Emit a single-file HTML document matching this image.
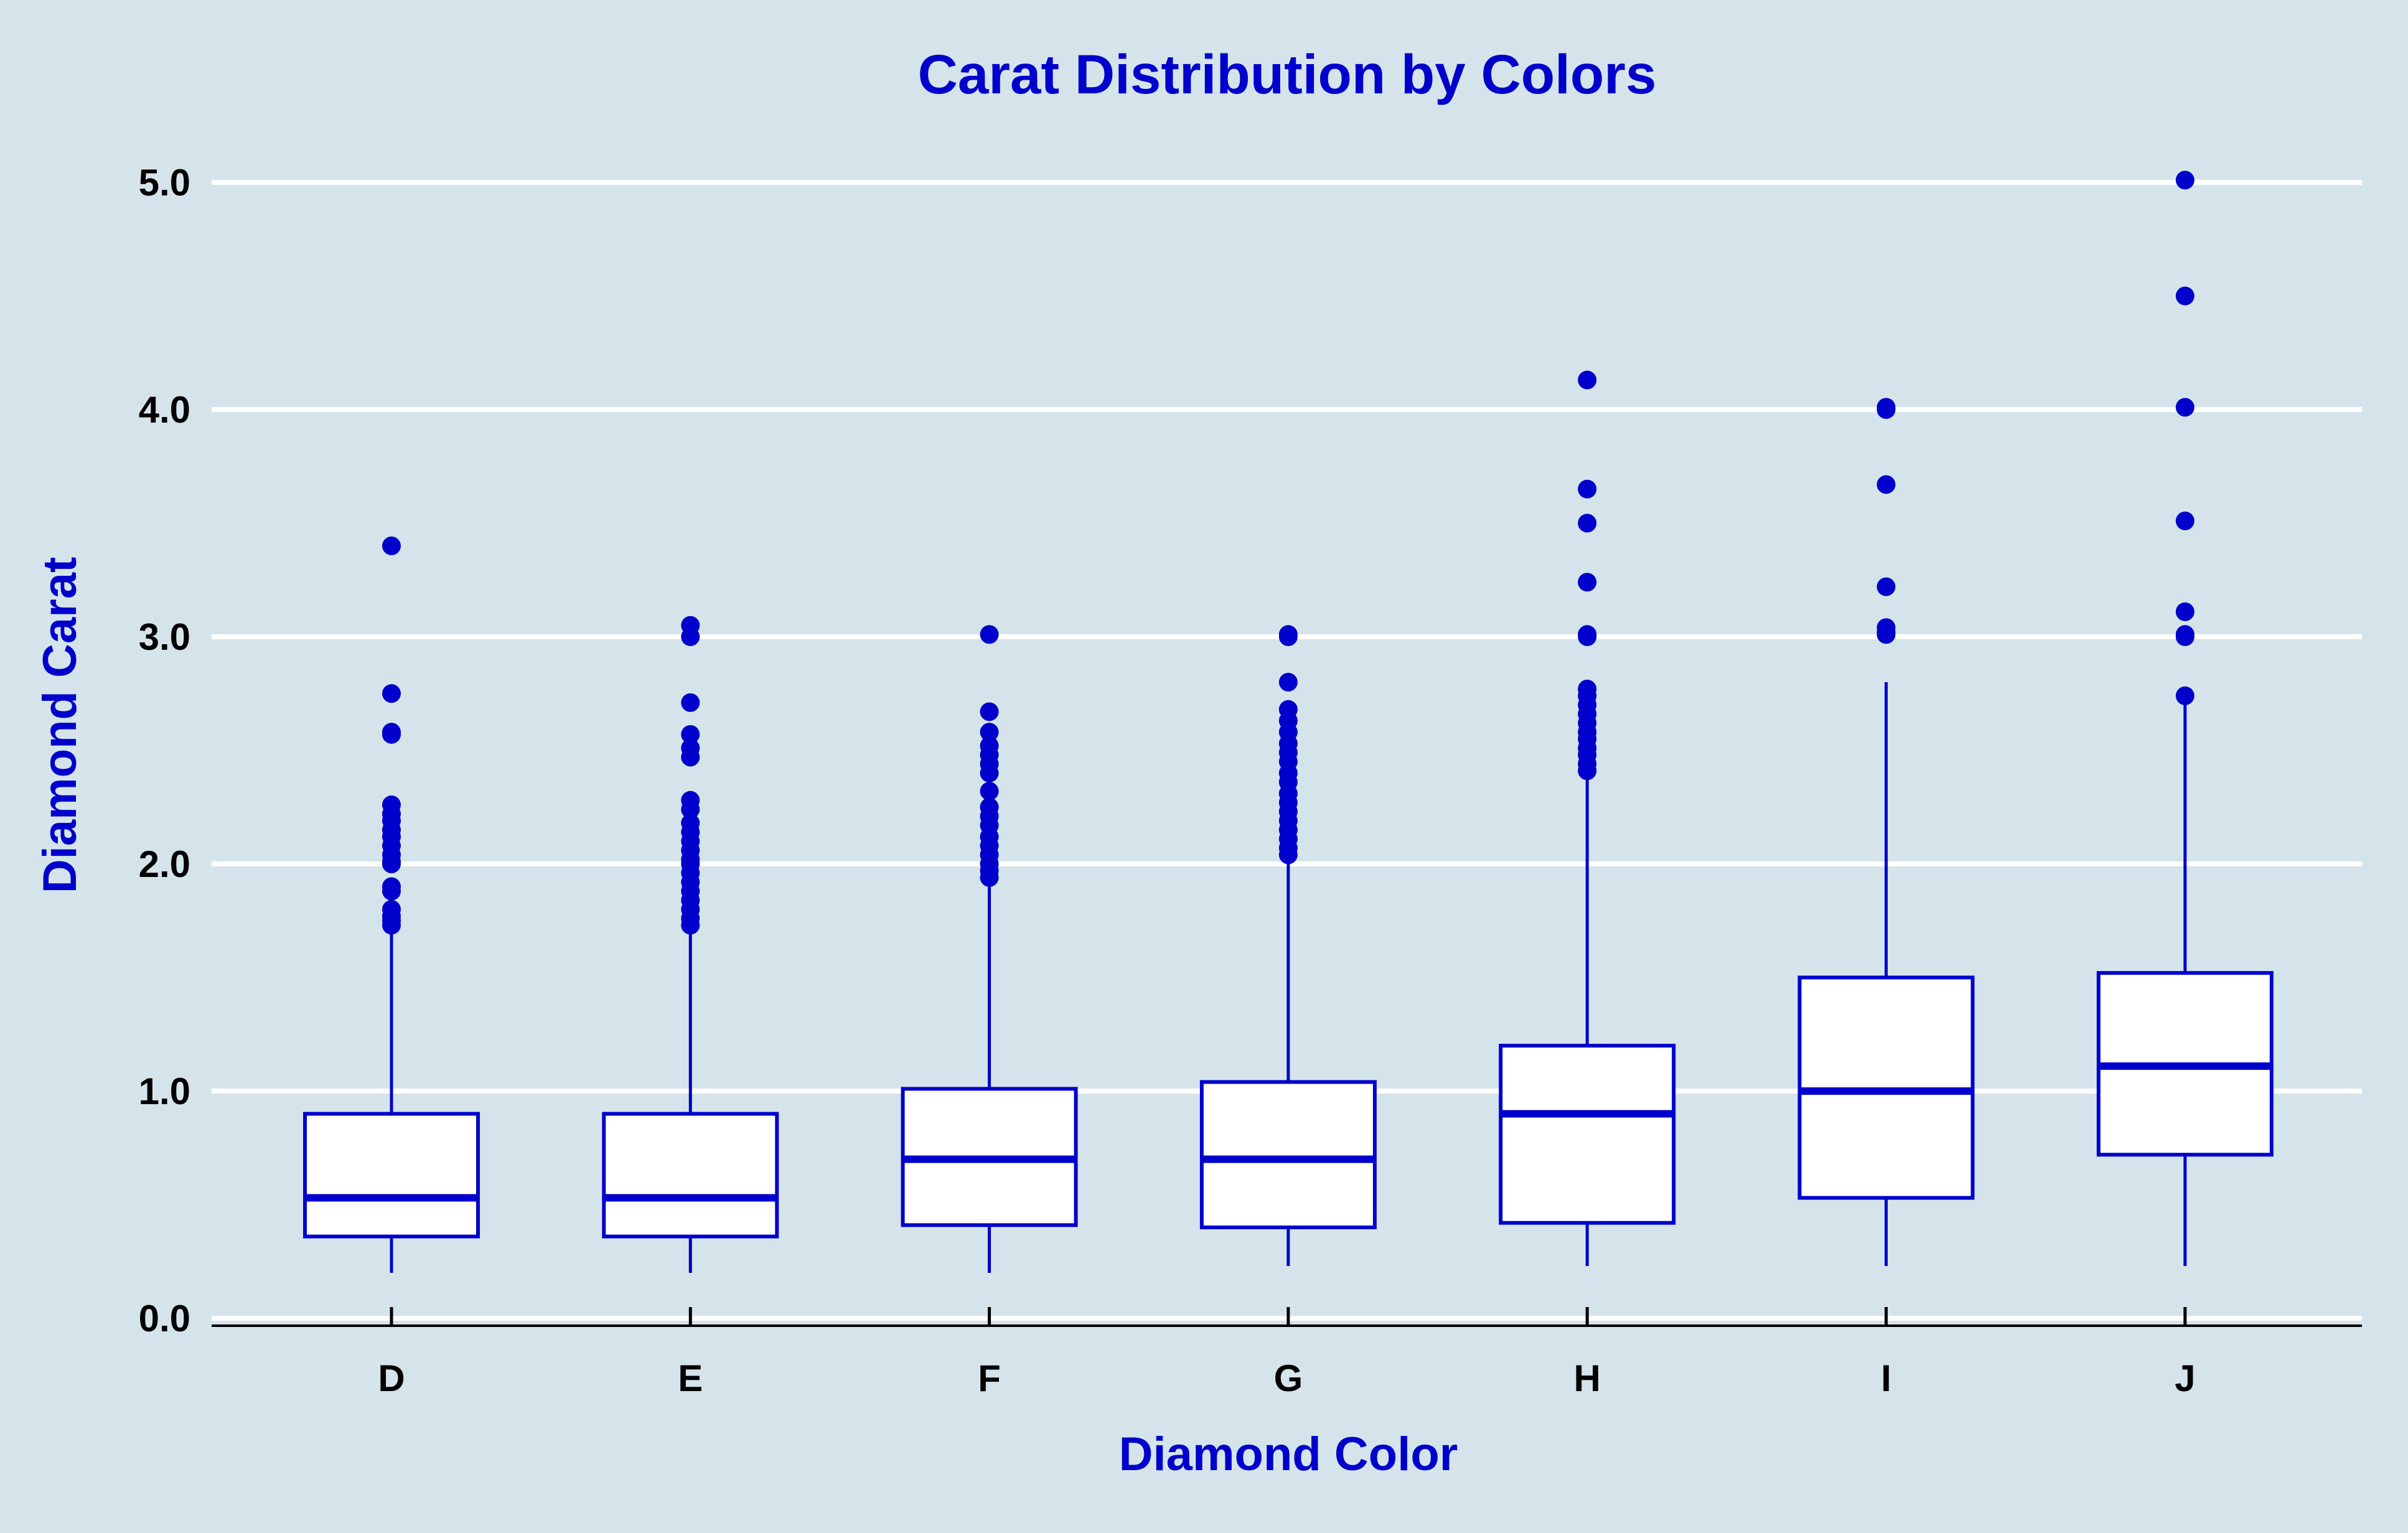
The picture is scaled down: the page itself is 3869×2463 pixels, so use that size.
<!DOCTYPE html>
<html><head><meta charset="utf-8"><style>
html,body{margin:0;padding:0;background:#d5e4eb;}
svg{display:block;font-family:"Liberation Sans",sans-serif;}
</style></head><body>
<svg id="chart" width="3869" height="2463" viewBox="0 0 3869 2463" xmlns="http://www.w3.org/2000/svg">
<rect x="0" y="0" width="3869" height="2463" fill="#d5e4eb"/>
<g id="grid"></g><g id="boxes"></g><g id="axes"></g>
<text x="2068" y="150" text-anchor="middle" font-size="89" font-weight="bold" fill="#0000cc">Carat Distribution by Colors</text>
<text x="2070" y="2362" text-anchor="middle" font-size="76" font-weight="bold" fill="#0000cc">Diamond Color</text>
<text transform="translate(122,1165) rotate(-90)" text-anchor="middle" font-size="76" font-weight="bold" fill="#0000cc">Diamond Carat</text>
</svg>
<script>
const categories = ["D","E","F","G","H","I","J"];
const lowWhisker = [0.20,0.20,0.20,0.23,0.23,0.23,0.23];
const q1 = [0.36,0.36,0.41,0.40,0.42,0.53,0.72];
const median = [0.53,0.53,0.70,0.70,0.90,1.00,1.11];
const q3 = [0.90,0.90,1.01,1.04,1.20,1.50,1.52];
const highWhisker = [1.72,1.71,1.93,2.03,2.38,2.80,2.71];
const outliers = [
 [3.40,2.75,2.58,2.57,2.26,2.22,2.19,2.15,2.12,2.08,2.04,2.01,2.00,1.90,1.88,1.80,1.77,1.75,1.73],
 [3.05,3.00,2.71,2.57,2.51,2.47,2.28,2.24,2.18,2.14,2.10,2.06,2.02,2.00,1.96,1.92,1.88,1.84,1.80,1.76,1.73],
 [3.01,2.67,2.58,2.52,2.48,2.44,2.40,2.32,2.25,2.21,2.17,2.12,2.08,2.04,2.00,1.97,1.94],
 [3.01,3.00,2.80,2.68,2.63,2.58,2.53,2.49,2.45,2.40,2.36,2.31,2.27,2.23,2.19,2.15,2.11,2.07,2.04],
 [4.13,3.65,3.50,3.24,3.01,3.00,2.77,2.74,2.70,2.66,2.62,2.58,2.55,2.51,2.48,2.44,2.41],
 [4.01,4.00,3.67,3.22,3.04,3.02,3.01],
 [5.01,4.50,4.01,3.51,3.11,3.01,3.00,2.74]
];
const yTicks = [0,1,2,3,4,5];
const yTickLabels = ["0.0","1.0","2.0","3.0","4.0","5.0"];
const NS="http://www.w3.org/2000/svg";
const X0=629, XSTEP=480.3, Y0=2118, YU=365;
function xs(i){return X0+i*XSTEP;}
function ys(v){return Y0-v*YU;}
function mk(tag,attrs,parent){const e=document.createElementNS(NS,tag);for(const k in attrs)e.setAttribute(k,attrs[k]);parent.appendChild(e);return e;}
const grid=document.getElementById('grid'),boxes=document.getElementById('boxes'),axes=document.getElementById('axes');
const BLUE="#0000cc";
yTicks.forEach((t,i)=>{
 const l=mk('line',{x1:340,x2:3795,y1:ys(t),y2:ys(t),stroke:"#ffffff","stroke-width":8},grid);
 
 
 const tx=mk('text',{x:306,y:ys(t)+21,"text-anchor":"end","font-size":60,"font-weight":"bold",fill:"#000"},axes);
 tx.textContent=yTickLabels[i];
 
 
});
const ax=mk('line',{x1:340,x2:3795,y1:2130,y2:2130,stroke:"#000","stroke-width":4},axes);


const HW=139;
categories.forEach((c,i)=>{
 const x=xs(i);
 const g=mk('g',{},boxes);
 
 
 mk('line',{x1:x,x2:x,y1:ys(lowWhisker[i]),y2:ys(q1[i]),stroke:BLUE,"stroke-width":5},g);
 mk('line',{x1:x,x2:x,y1:ys(q3[i]),y2:ys(highWhisker[i]),stroke:BLUE,"stroke-width":5},g);
 mk('rect',{x:x-HW,y:ys(q3[i]),width:2*HW,height:ys(q1[i])-ys(q3[i]),fill:"#fff",stroke:BLUE,"stroke-width":6},g);
 mk('line',{x1:x-HW,x2:x+HW,y1:ys(median[i]),y2:ys(median[i]),stroke:BLUE,"stroke-width":12},g);
 outliers[i].forEach(v=>{
  const p=mk('circle',{cx:x,cy:ys(v),r:15,fill:BLUE},g);
  
  
 });
 const tk=mk('line',{x1:x,x2:x,y1:2100,y2:2130,stroke:"#000","stroke-width":5},axes);
 
 
 const tl=mk('text',{x:x,y:2235,"text-anchor":"middle","font-size":60,"font-weight":"bold",fill:"#000"},axes);
 tl.textContent=c;
 
 
});
</script>
</body></html>
